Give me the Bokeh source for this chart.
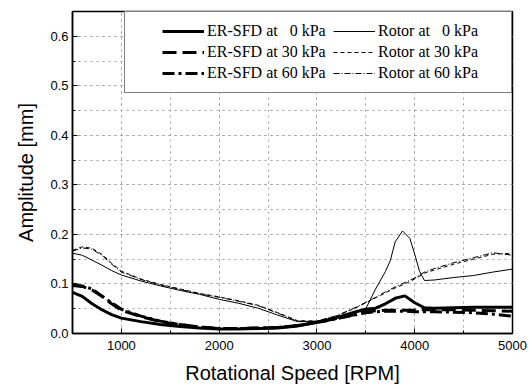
from bokeh.plotting import figure
from bokeh.models import Range1d, Legend, LegendItem, SingleIntervalTicker, NumeralTickFormatter
from bokeh.embed import file_html
from bokeh.resources import INLINE

# ---- data ----
rpm = [500, 600, 700, 800, 900, 1000, 1200, 1400, 1600, 1800, 2000, 2200, 2400, 2600,
       2800, 3000, 3200, 3400, 3500, 3600, 3700, 3800, 3900, 4000, 4100, 4200, 4400,
       4600, 4800, 5000]

er_0kpa = [0.083, 0.075, 0.060, 0.048, 0.038, 0.031, 0.024, 0.018, 0.014, 0.011, 0.009,
           0.009, 0.010, 0.011, 0.015, 0.023, 0.032, 0.044, 0.049, 0.051, 0.060, 0.071,
           0.076, 0.062, 0.052, 0.051, 0.052, 0.053, 0.053, 0.053]
er_30kpa = [0.097, 0.095, 0.088, 0.075, 0.060, 0.047, 0.034, 0.024, 0.018, 0.013, 0.010,
            0.010, 0.011, 0.012, 0.016, 0.022, 0.030, 0.039, 0.044, 0.046, 0.047, 0.047,
            0.047, 0.047, 0.048, 0.048, 0.048, 0.047, 0.046, 0.045]
er_60kpa = [0.098, 0.096, 0.090, 0.076, 0.062, 0.049, 0.035, 0.025, 0.018, 0.013, 0.010,
            0.010, 0.011, 0.012, 0.016, 0.022, 0.030, 0.038, 0.042, 0.044, 0.045, 0.045,
            0.045, 0.044, 0.044, 0.044, 0.043, 0.042, 0.039, 0.035]

rpm_rotor0 = [500, 600, 700, 800, 900, 1000, 1200, 1400, 1600, 1800, 2000, 2200, 2400,
              2600, 2800, 3000, 3200, 3400, 3500, 3600, 3700, 3750, 3800, 3875, 3950,
              4000, 4050, 4100, 4200, 4400, 4600, 4800, 5000]
rotor_0kpa = [0.162, 0.158, 0.148, 0.138, 0.127, 0.118, 0.106, 0.096, 0.087, 0.079, 0.069,
              0.061, 0.051, 0.037, 0.024, 0.024, 0.032, 0.043, 0.050, 0.090, 0.125, 0.147,
              0.185, 0.207, 0.192, 0.160, 0.125, 0.107, 0.108, 0.113, 0.117, 0.124, 0.130]
rotor_30kpa = [0.168, 0.175, 0.172, 0.160, 0.142, 0.126, 0.110, 0.099, 0.090, 0.081, 0.074,
               0.066, 0.057, 0.042, 0.026, 0.025, 0.035, 0.052, 0.062, 0.072, 0.082, 0.092,
               0.100, 0.110, 0.122, 0.128, 0.140, 0.150, 0.160, 0.162]
rotor_60kpa = [0.166, 0.173, 0.170, 0.158, 0.140, 0.124, 0.109, 0.098, 0.089, 0.080, 0.073,
               0.065, 0.056, 0.041, 0.025, 0.025, 0.036, 0.053, 0.063, 0.073, 0.084, 0.094,
               0.103, 0.112, 0.124, 0.131, 0.143, 0.153, 0.163, 0.158]

labels_er = ["ER-SFD at \u00a0\u00a00 kPa", "ER-SFD at 30 kPa", "ER-SFD at 60 kPa"]
labels_rotor = ["Rotor at \u00a0\u00a00 kPa", "Rotor at 30 kPa", "Rotor at 60 kPa"]

p = figure(width=530, height=388, output_backend="svg", toolbar_location=None, title=None,
           x_range=Range1d(500, 5000), y_range=Range1d(0, 0.65),
           min_border_left=72, min_border_right=18, min_border_top=11, min_border_bottom=55)

p.background_fill_color = "white"
p.border_fill_color = "white"
p.outline_line_color = "black"
p.outline_line_width = 1.5

p.xaxis.ticker = SingleIntervalTicker(interval=1000, num_minor_ticks=2)
p.yaxis.ticker = SingleIntervalTicker(interval=0.1, num_minor_ticks=2)
p.yaxis.formatter = NumeralTickFormatter(format="0.0")

for ax in (p.xaxis[0], p.yaxis[0]):
    ax.axis_line_width = 1.5
    ax.axis_line_color = "black"
    ax.major_tick_in = 5
    ax.major_tick_out = 0
    ax.minor_tick_in = 3
    ax.minor_tick_out = 0
    ax.major_tick_line_color = "black"
    ax.minor_tick_line_color = "black"
    ax.major_label_text_font = "Liberation Sans"
    ax.major_label_text_font_size = "13px"
    ax.major_label_text_color = "black"
    ax.axis_label_text_font = "Liberation Sans"
    ax.axis_label_text_font_size = "20px"
    ax.axis_label_text_font_style = "normal"
    ax.axis_label_text_color = "black"

p.xaxis.axis_label = "Rotational Speed [RPM]"
p.yaxis.axis_label = "Amplitude [mm]"
p.xaxis.major_label_standoff = 7
p.yaxis.major_label_standoff = 4
p.xaxis.axis_label_standoff = 9
p.yaxis.axis_label_standoff = 10

for g in (p.xgrid[0], p.ygrid[0]):
    g.grid_line_color = "#a0a0a0"
    g.grid_line_dash = "2 4"
    g.grid_line_width = 1
    g.minor_grid_line_color = "#a0a0a0"
    g.minor_grid_line_dash = "2 4"
    g.minor_grid_line_width = 1

r_er0 = p.line(rpm, er_0kpa, line_color="black", line_width=3)
r_er30 = p.line(rpm, er_30kpa, line_color="black", line_width=3, line_dash="14 6")
r_er60 = p.line(rpm, er_60kpa, line_color="black", line_width=3, line_dash="12 4 3 4")
r_ro0 = p.line(rpm_rotor0, rotor_0kpa, line_color="black", line_width=1)
r_ro30 = p.line(rpm, rotor_30kpa, line_color="black", line_width=1, line_dash="4 3")
r_ro60 = p.line(rpm, rotor_60kpa, line_color="black", line_width=1, line_dash="6 2 1 2")

items = [
    LegendItem(label=labels_er[0], renderers=[r_er0]),
    LegendItem(label=labels_er[1], renderers=[r_er30]),
    LegendItem(label=labels_er[2], renderers=[r_er60]),
    LegendItem(label=labels_rotor[0], renderers=[r_ro0]),
    LegendItem(label=labels_rotor[1], renderers=[r_ro30]),
    LegendItem(label=labels_rotor[2], renderers=[r_ro60]),
]
legend = Legend(items=items, location="top_right", orientation="vertical", nrows=3, ncols=2,
                glyph_width=42, glyph_height=16, label_height=16, label_standoff=3,
                label_width=123,
                spacing=3, padding=10, margin=0,
                label_text_font="Liberation Serif", label_text_font_size="16px",
                label_text_color="black",
                border_line_color="black", border_line_width=1,
                background_fill_color="white", background_fill_alpha=1,
                title=" ", title_location="left", title_standoff=10,
                title_text_font_size="15px")
p.add_layout(legend)

open("out.html", "w").write(file_html(p, INLINE))
